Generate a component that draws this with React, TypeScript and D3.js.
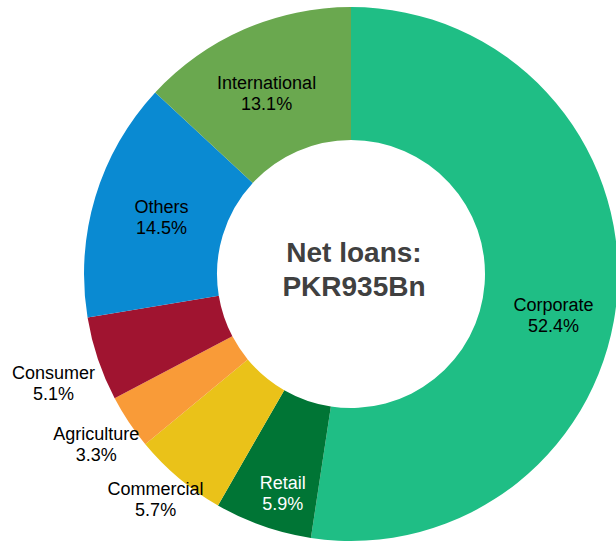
import React from 'react';
import { arc, pie, PieArcDatum } from 'd3';

const categories = ['Corporate', 'Retail', 'Commercial', 'Agriculture', 'Consumer', 'Others', 'International'];
const shares = [52.4, 5.9, 5.7, 3.3, 5.1, 14.5, 13.1];
const colours = ['#1fbe85', '#007535', '#eac219', '#f99b38', '#a01430', '#0a8ad2', '#6aa84f'];
const centreLines = ['Net loans:', 'PKR935Bn'];

// label placement: inside labels sit on the ring centroid, the small left slices sit outside
const labelPlacement: Record<string, { outside: boolean; dx: number; dy: number; fill: string }> = {
  Corporate: { outside: false, dx: 2, dy: 25, fill: '#000' },
  Retail: { outside: false, dx: -2, dy: 28, fill: '#fff' },
  Commercial: { outside: true, dx: -2, dy: -5, fill: '#000' },
  Agriculture: { outside: true, dx: -5, dy: 3, fill: '#000' },
  Consumer: { outside: true, dx: -13, dy: 13, fill: '#000' },
  Others: { outside: false, dx: 3, dy: 0, fill: '#000' },
  International: { outside: false, dx: -4, dy: 2, fill: '#000' },
};

interface Slice {
  name: string;
  value: number;
  colour: string;
}

const slices: Slice[] = categories.map((name, i) => ({ name, value: shares[i], colour: colours[i] }));

export default function App() {
  const width = 616,
    height = 543;
  const cx = 351,
    cy = 274,
    outer = 267,
    inner = 134;

  const arcs = pie<Slice>()
    .sort(null)
    .value((d) => d.value)(slices);

  const ring = arc<PieArcDatum<Slice>>().innerRadius(inner).outerRadius(outer);
  const insideLabel = arc<PieArcDatum<Slice>>().innerRadius(201).outerRadius(201);
  const outsideLabel = arc<PieArcDatum<Slice>>().innerRadius(300).outerRadius(300);

  return (
    <svg
      width={width}
      height={height}
      style={{ position: 'absolute', left: 0, top: 0, background: '#fff' }}
      fontFamily="'Liberation Sans', Arial, sans-serif"
    >
      <g transform={`translate(${cx}, ${cy})`}>
        {arcs.map((a) => (
          <path key={a.data.name} d={ring(a) || ''} fill={a.data.colour} />
        ))}
        {arcs.map((a) => {
          const p = labelPlacement[a.data.name];
          const [x, y] = (p.outside ? outsideLabel : insideLabel).centroid(a);
          return (
            <text
              key={'l' + a.data.name}
              x={x + p.dx}
              y={y + p.dy}
              textAnchor="middle"
              fontSize={18}
              fill={p.fill}
            >
              <tspan x={x + p.dx} dy={-3}>
                {a.data.name}
              </tspan>
              <tspan x={x + p.dx} dy={21}>
                {a.data.value.toFixed(1)}%
              </tspan>
            </text>
          );
        })}
        <text textAnchor="middle" fontSize={28} fontWeight="bold" fill="#404040">
          {centreLines.map((line, i) => (
            <tspan key={line} x={3} y={-12 + i * 34}>
              {line}
            </tspan>
          ))}
        </text>
      </g>
    </svg>
  );
}
